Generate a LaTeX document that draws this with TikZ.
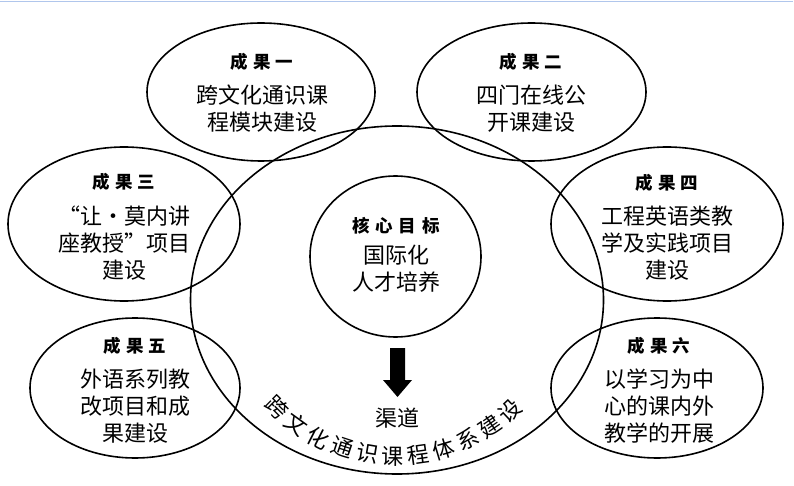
\documentclass[tikz,border=0pt]{standalone}
\usepackage{fontspec}
\setmainfont{Noto Sans CJK SC}
\usetikzlibrary{shapes.geometric}
\newcommand\hdr[1]{{\fontsize{17.5}{20}\selectfont\bfseries #1}}
\begin{document}
\begin{tikzpicture}[x=1pt,y=-1pt,
  oval/.style={draw, ellipse, line width=1.6pt, inner sep=0pt},
  txt/.style={align=center, inner sep=0pt, font=\fontsize{22}{27}\selectfont},
  arc char/.style={inner sep=0pt, font=\fontsize{22}{24}\selectfont}]
\fill[white] (0,0) rectangle (794,486);
\useasboundingbox (0,0) rectangle (794,486);
\draw[line width=1.5pt, color={rgb,255:red,176;green,198;blue,236}] (0,1.5) -- (793,1.5);

% outcome ellipses
\node[oval, minimum width=228pt, minimum height=138pt] (r1) at (261,92) {};
\node[oval, minimum width=229pt, minimum height=138pt] (r2) at (531.5,92) {};
\node[oval, minimum width=232pt, minimum height=154pt] (r3) at (124,224) {};
\node[oval, minimum width=232pt, minimum height=154pt] (r4) at (667,224) {};
\node[oval, minimum width=210pt, minimum height=140pt] (r5) at (135,388) {};
\node[oval, minimum width=212pt, minimum height=140pt] (r6) at (657,388) {};
% channel and core
\node[oval, minimum width=413pt, minimum height=348pt] (ch) at (397,300) {};
\node[oval, minimum width=171pt, minimum height=161pt] (core) at (395.5,256.5) {};

% texts
\node[txt] (t1) at (262,93) {\hdr{成\kern5pt 果\kern5pt 一}\\[8pt]跨文化通识课\\程模块建设};
\node[txt] (t2) at (531,93) {\hdr{成\kern5pt 果\kern5pt 二}\\[8pt]四门在线公\\开课建设};
\node[txt] (t3) at (124,227) {\hdr{成\kern5pt 果\kern5pt 三}\\[9pt]“让·莫内讲\\座教授”项目\\建设};
\node[txt] (t4) at (667,227) {\hdr{成\kern5pt 果\kern5pt 四}\\[8pt]工程英语类教\\学及实践项目\\建设};
\node[txt] (t5) at (135,390) {\hdr{成\kern5pt 果\kern5pt 五}\\[8pt]外语系列教\\改项目和成\\果建设};
\node[txt] (t6) at (659,390) {\hdr{成\kern5pt 果\kern5pt 六}\\[8pt]以学习为中\\心的课内外\\教学的开展};
\node[txt] (tc) at (396,255) {\hdr{核\kern6pt 心\kern6pt 目\kern6pt 标}\\[4pt]国际化\\人才培养};

% arrow
\fill (390,348) -- (405,348) -- (405,380) -- (412,380) -- (397.5,397) -- (383,380) -- (390,380) -- cycle;
\node[txt] (qd) at (397,418) {渠道};

% curved text
\foreach \c [count=\i from 0] in {跨,文,化,通,识,课,程,体,系,建,设} {
  \pgfmathsetmacro\r{44.6-8.77*\i}
  \pgfmathsetmacro\q{-1*\r}
  \node[arc char, rotate=\q] (c\i) at ({395-168*sin(\r)},{288+168*cos(\r)}) {\c};
}
\end{tikzpicture}
\end{document}
